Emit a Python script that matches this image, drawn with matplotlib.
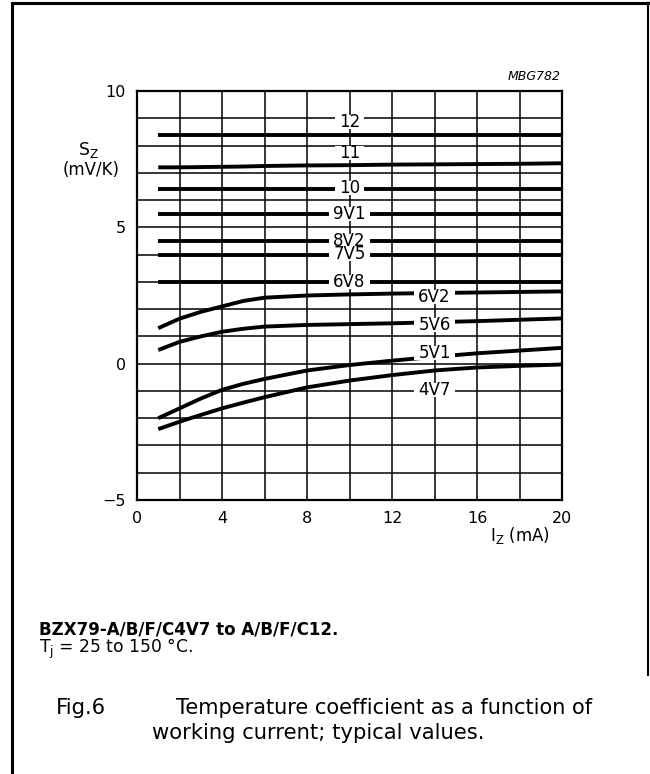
import matplotlib
matplotlib.use("Agg")
import matplotlib.pyplot as plt
from matplotlib.lines import Line2D
from matplotlib.patches import Rectangle
from matplotlib.transforms import IdentityTransform

plt.rcParams['font.family'] = ['DejaVu Sans']

# ---- data ----
current_mA = [1, 2, 3, 4, 5, 6, 8, 10, 12, 14, 16, 18, 20]
s_12  = [8.4] * 13
s_11  = [7.2, 7.2, 7.21, 7.22, 7.23, 7.25, 7.27, 7.28, 7.3, 7.31, 7.32, 7.33, 7.35]
s_10  = [6.4] * 13
s_9V1 = [5.5] * 13
s_8V2 = [4.5] * 13
s_7V5 = [4.0] * 13
s_6V8 = [3.0] * 13
s_6V2 = [1.3, 1.65, 1.9, 2.1, 2.3, 2.42, 2.5, 2.54, 2.57, 2.59, 2.61, 2.63, 2.65]
s_5V6 = [0.5, 0.8, 1.0, 1.17, 1.28, 1.36, 1.42, 1.45, 1.48, 1.52, 1.56, 1.61, 1.66]
s_5V1 = [-2.0, -1.64, -1.28, -0.96, -0.74, -0.56, -0.25, -0.05, 0.11, 0.25, 0.38, 0.48, 0.58]
s_4V7 = [-2.4, -2.13, -1.88, -1.64, -1.43, -1.23, -0.87, -0.62, -0.42, -0.25, -0.14, -0.08, -0.03]

series = [s_12, s_11, s_10, s_9V1, s_8V2, s_7V5, s_6V8, s_6V2, s_5V6, s_5V1, s_4V7]
# curve labels (8V2 and 7V5 sit so close that they are set as one two-line label)
labels = ["12", "11", "10", "9V1", "8V2\n7V5", "6V8", "6V2", "5V6", "5V1", "4V7"]
label_x = [10, 10, 10, 10, 10, 10, 14, 14, 14, 14]
label_y = [8.87, 7.72, 6.45, 5.5, 4.25, 3.0, 2.45, 1.4, 0.4, -0.96]

x_ticks = [0, 4, 8, 12, 16, 20]
y_ticks = [-5, 0, 5, 10]

# ---- figure ----
fig = plt.figure(figsize=(6.5, 7.74), dpi=100)
ax = fig.add_axes([137/650, 1 - 500/774, 425/650, 409/774])
ax.set_xlim(0, 20)
ax.set_ylim(-5, 10)
ax.set_xticks(x_ticks)
ax.set_xticks([2, 6, 10, 14, 18], minor=True)
ax.set_yticks(y_ticks)
ax.set_yticks([y for y in range(-4, 10) if y not in y_ticks], minor=True)
ax.set_yticklabels(["\u22125", "0", "5", "10"])
ax.tick_params(which='both', length=0, labelsize=11.5, pad=8)
ax.tick_params(axis='x', pad=8)
ax.grid(True, which='both', color='black', lw=1.1)
for sp in ax.spines.values():
    sp.set_linewidth(1.6)

for ys in series:
    ax.plot(current_mA, ys, color='black', lw=2.8, solid_capstyle='butt', zorder=3)

label_texts = []
for lab, lx, ly in zip(labels, label_x, label_y):
    t = ax.text(lx, ly, lab, ha='center', va='center', fontsize=12, zorder=6,
                linespacing=0.66, multialignment='center')
    label_texts.append(t)

# white gaps behind the curve labels (lines broken by the labels)
fig.canvas.draw()
renderer = fig.canvas.get_renderer()
for t in label_texts:
    bb = t.get_window_extent(renderer)
    cy = (bb.y0 + bb.y1) / 2
    h = 14 if "\n" not in t.get_text() else bb.height - 4
    ax.add_patch(Rectangle((bb.x0 - 4, cy - h / 2), bb.width + 8, h,
                           transform=IdentityTransform(), facecolor='white',
                           edgecolor='none', zorder=5))

# axis labels
fig.text(88/650, 1 - 150/774, r"S$_\mathregular{Z}$", ha='center', va='center', fontsize=12.5)
fig.text(91/650, 1 - 170/774, "(mV/K)", ha='center', va='center', fontsize=12)
fig.text(520/650, 1 - 535/774, r"I$_\mathregular{Z}$ (mA)", ha='center', va='center', fontsize=12)
fig.text(561/650, 1 - 77/774, "MBG782", ha='right', va='center', fontsize=9, style='italic')

# captions
fig.text(39/650, 1 - 629/774, "BZX79-A/B/F/C4V7 to A/B/F/C12.", ha='left', va='center',
         fontsize=12, fontweight='bold')
fig.text(39/650, 1 - 649/774, "T$_\\mathregular{j}$ = 25 to 150 \u00b0C.",
         ha='left', va='center', fontsize=12.3)
fig.text(56/650, 1 - 708/774, "Fig.6", ha='left', va='center', fontsize=15.2)
fig.text(176/650, 1 - 708/774, "Temperature coefficient as a function of", ha='left', va='center', fontsize=15)
fig.text(152/650, 1 - 733/774, "working current; typical values.", ha='left', va='center', fontsize=15.2)

# border
fig.add_artist(Line2D([12/650, 12/650], [0, 1 - 3/774], color='black', lw=2.2, transform=fig.transFigure))
fig.add_artist(Line2D([12/650, 648/650], [1 - 3/774, 1 - 3/774], color='black', lw=2.2, transform=fig.transFigure))
fig.add_artist(Line2D([648/650, 648/650], [1 - 3/774, 1 - 675/774], color='black', lw=1.5, transform=fig.transFigure))

fig.savefig("out.png", dpi=100, facecolor='white')
